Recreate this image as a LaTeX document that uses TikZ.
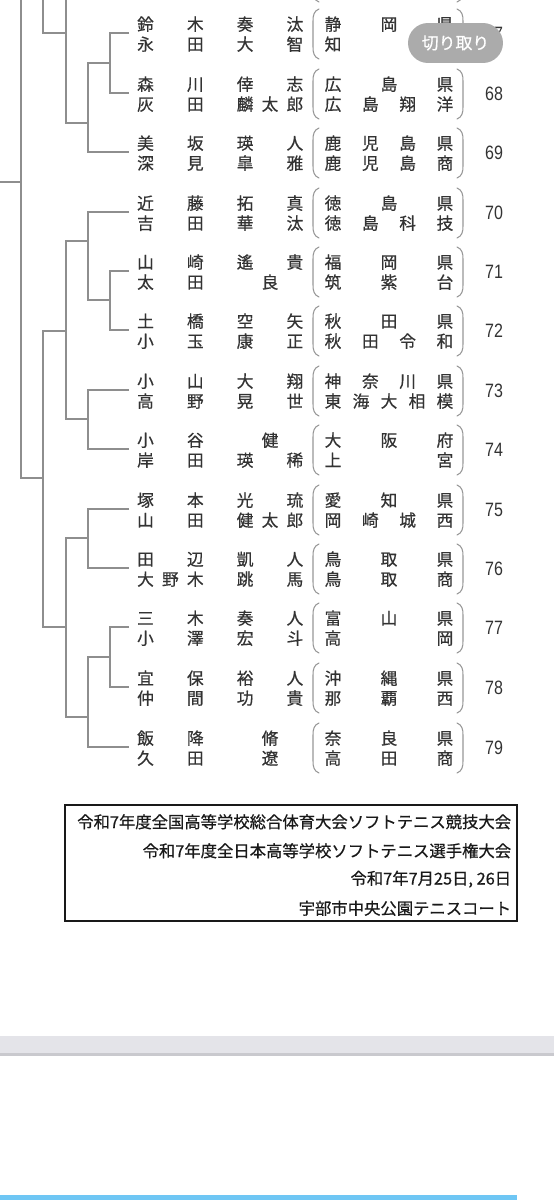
\documentclass[tikz,border=0pt]{standalone}
\usepackage{fontspec}
\usepackage{tikz}
\usetikzlibrary{calc}

\newfontfamily\jpfont[FakeBold=0.5]{Noto Sans CJK JP}
\newfontfamily\numfont{Liberation Sans}

\definecolor{treegray}{HTML}{8E8E8E}
\definecolor{brkgray}{HTML}{979797}
\definecolor{txtgray}{HTML}{333333}
\definecolor{pillgray}{HTML}{ABABAB}
\definecolor{bandgray}{HTML}{E4E4E9}
\definecolor{banddark}{HTML}{C9C9CE}
\definecolor{barblue}{HTML}{6EC6F4}

% one pair of round brackets round the school names
\newcommand{\schoolbrackets}[1]{%
  \draw[brk] (319,#1-24) .. controls (314,#1-22) and (313,#1-18) .. (313,#1-12)
    -- (313,#1+14) .. controls (313,#1+20) and (314,#1+24) .. (319,#1+26);
  \draw[brk] (457,#1-24) .. controls (462,#1-22) and (463,#1-18) .. (463,#1-12)
    -- (463,#1+14) .. controls (463,#1+20) and (462,#1+24) .. (457,#1+26);
}

% #1 number, #2 line y, #3/#4 player lines, #5/#6 school lines (char/slot)
\newcommand{\pairentry}[6]{%
  \coordinate (e#1) at (129,#2);
  \foreach \ch/\s in {#3} \node[nm] (n#1a\s) at ({145.5+\s*24.9},{#2-2.5}) {\ch};
  \foreach \ch/\s in {#4} \node[nm] (n#1b\s) at ({145.5+\s*24.9},{#2+17.5}) {\ch};
  \foreach \ch/\s in {#5} \node[nm] (s#1a\s) at ({333+\s*9.333},{#2-2.5}) {\ch};
  \foreach \ch/\s in {#6} \node[nm] (s#1b\s) at ({333+\s*9.333},{#2+17.5}) {\ch};
  \node[num] (num#1) at (494,#2+1) {\scalebox{0.83}[1]{#1}};
  \schoolbrackets{#2}
}

\begin{document}
\begin{tikzpicture}[x=0.02cm, y=-0.02cm,
  tree/.style={draw=treegray, line width=0.8pt},
  brk/.style={draw=brkgray, line width=0.6pt, line cap=round},
  nm/.style={anchor=base, inner sep=0pt, text=txtgray,
    font=\jpfont\fontsize{9.5pt}{11pt}\selectfont},
  num/.style={inner sep=0pt, text=txtgray,
    font=\numfont\fontsize{11pt}{12pt}\selectfont},
  info/.style={anchor=base east, inner sep=0pt, text=black!90,
    font=\jpfont\fontsize{9.3pt}{11pt}\selectfont},
  pill/.style={fill=pillgray, text=white, rounded corners=0.4cm,
    minimum width=1.9cm, minimum height=0.8cm, inner sep=0pt,
    font=\jpfont\fontsize{9.6pt}{11pt}\selectfont}]

  \useasboundingbox (0,0) rectangle (554,1200);
  \clip (0,0) rectangle (554,1200);
  \fill[white] (0,0) rectangle (554,1200);

  %--------------------------
  % Pairs
  %--------------------------
  \schoolbrackets{-24}
  \pairentry{67}{33}{鈴/0,木/2,奏/4,汰/6}{永/0,田/2,大/4,智/6}{静/0,岡/6,県/12}{知/0,徳/12}
  \pairentry{68}{93}{森/0,川/2,倖/4,志/6}{灰/0,田/2,麟/4,太/5,郎/6}{広/0,島/6,県/12}{広/0,島/4,翔/8,洋/12}
  \pairentry{69}{152}{美/0,坂/2,瑛/4,人/6}{深/0,見/2,皐/4,雅/6}{鹿/0,児/4,島/8,県/12}{鹿/0,児/4,島/8,商/12}
  \pairentry{70}{212}{近/0,藤/2,拓/4,真/6}{吉/0,田/2,華/4,汰/6}{徳/0,島/6,県/12}{徳/0,島/4,科/8,技/12}
  \pairentry{71}{271}{山/0,崎/2,遙/4,貴/6}{太/0,田/2,良/5}{福/0,岡/6,県/12}{筑/0,紫/6,台/12}
  \pairentry{72}{330}{土/0,橋/2,空/4,矢/6}{小/0,玉/2,康/4,正/6}{秋/0,田/6,県/12}{秋/0,田/4,令/8,和/12}
  \pairentry{73}{390}{小/0,山/2,大/4,翔/6}{高/0,野/2,晃/4,世/6}{神/0,奈/4,川/8,県/12}{東/0,海/3,大/6,相/9,模/12}
  \pairentry{74}{449}{小/0,谷/2,健/5}{岸/0,田/2,瑛/4,稀/6}{大/0,阪/6,府/12}{上/0,宮/12}
  \pairentry{75}{509}{塚/0,本/2,光/4,琉/6}{山/0,田/2,健/4,太/5,郎/6}{愛/0,知/6,県/12}{岡/0,崎/4,城/8,西/12}
  \pairentry{76}{568}{田/0,辺/2,凱/4,人/6}{大/0,野/1,木/2,跳/4,馬/6}{鳥/0,取/6,県/12}{鳥/0,取/6,商/12}
  \pairentry{77}{627}{三/0,木/2,奏/4,人/6}{小/0,澤/2,宏/4,斗/6}{富/0,山/6,県/12}{高/0,岡/12}
  \pairentry{78}{687}{宜/0,保/2,裕/4,人/6}{仲/0,間/2,功/4,貴/6}{沖/0,縄/6,県/12}{那/0,覇/6,西/12}
  \pairentry{79}{747}{飯/0,降/2,脩/5}{久/0,田/2,遼/5}{奈/0,良/6,県/12}{高/0,田/6,商/12}

  %--------------------------
  % Draw lines
  %--------------------------
  \coordinate (t21) at (21,0);
  \coordinate (t43) at (43,0);
  \coordinate (t66) at (66,0);
  \coordinate (o21) at (21,182);
  \coordinate (l21) at (0,182);

  % upper block
  \coordinate (m1) at (110,63);
  \coordinate (m2) at (88,123);
  \coordinate (m3) at (66,33);
  \draw[tree] (e67) -| (m1) |- (e68);
  \draw[tree] (m1) -| (m2) |- (e69);
  \draw[tree] (m2) -| (m3) -- (t66);
  \draw[tree] (m3) -| (t43);

  % lower block
  \coordinate (n1) at (110,300);
  \coordinate (n2) at (88,241);
  \coordinate (n3) at (88,419);
  \coordinate (n4) at (66,331);
  \coordinate (n5) at (88,538);
  \coordinate (n6) at (110,657);
  \coordinate (n7) at (88,717);
  \coordinate (n8) at (66,627);
  \coordinate (n9) at (43,478);
  \draw[tree] (e71) -| (n1) |- (e72);
  \draw[tree] (e70) -| (n2) |- (n1);
  \draw[tree] (e73) -| (n3) |- (e74);
  \draw[tree] (n2) -| (n4) |- (n3);
  \draw[tree] (e75) -| (n5) |- (e76);
  \draw[tree] (e77) -| (n6) |- (e78);
  \draw[tree] (n6) -| (n7) |- (e79);
  \draw[tree] (n5) -| (n8) |- (n7);
  \draw[tree] (n4) -| (n9) |- (n8);
  \draw[tree] (n9) -| (t21);
  \draw[tree] (o21) -- (l21);

  %--------------------------
  % Event box
  %--------------------------
  \draw[black!90, line width=1.1pt] (65,805) rectangle (517,921);
  \node[info] (ev1) at (511.5,828) {令和7年度全国高等学校総合体育大会ソフトテニス競技大会};
  \node[info] (ev2) at (511.5,857) {令和7年度全日本高等学校ソフトテニス選手権大会};
  \node[info] (ev3) at (511.5,884.5) {令和7年7月25日, 26日};
  \node[info] (ev4) at (511.5,914.5) {宇部市中央公園テニスコート};

  %--------------------------
  % Screen parts
  %--------------------------
  \fill[bandgray] (0,1036) rectangle (554,1053);
  \fill[banddark] (0,1053) rectangle (554,1056);
  \fill[barblue] (0,1195) rectangle (517,1200);
  \node[pill] (cut) at (455.5,43) {切り取り};

\end{tikzpicture}
\end{document}
